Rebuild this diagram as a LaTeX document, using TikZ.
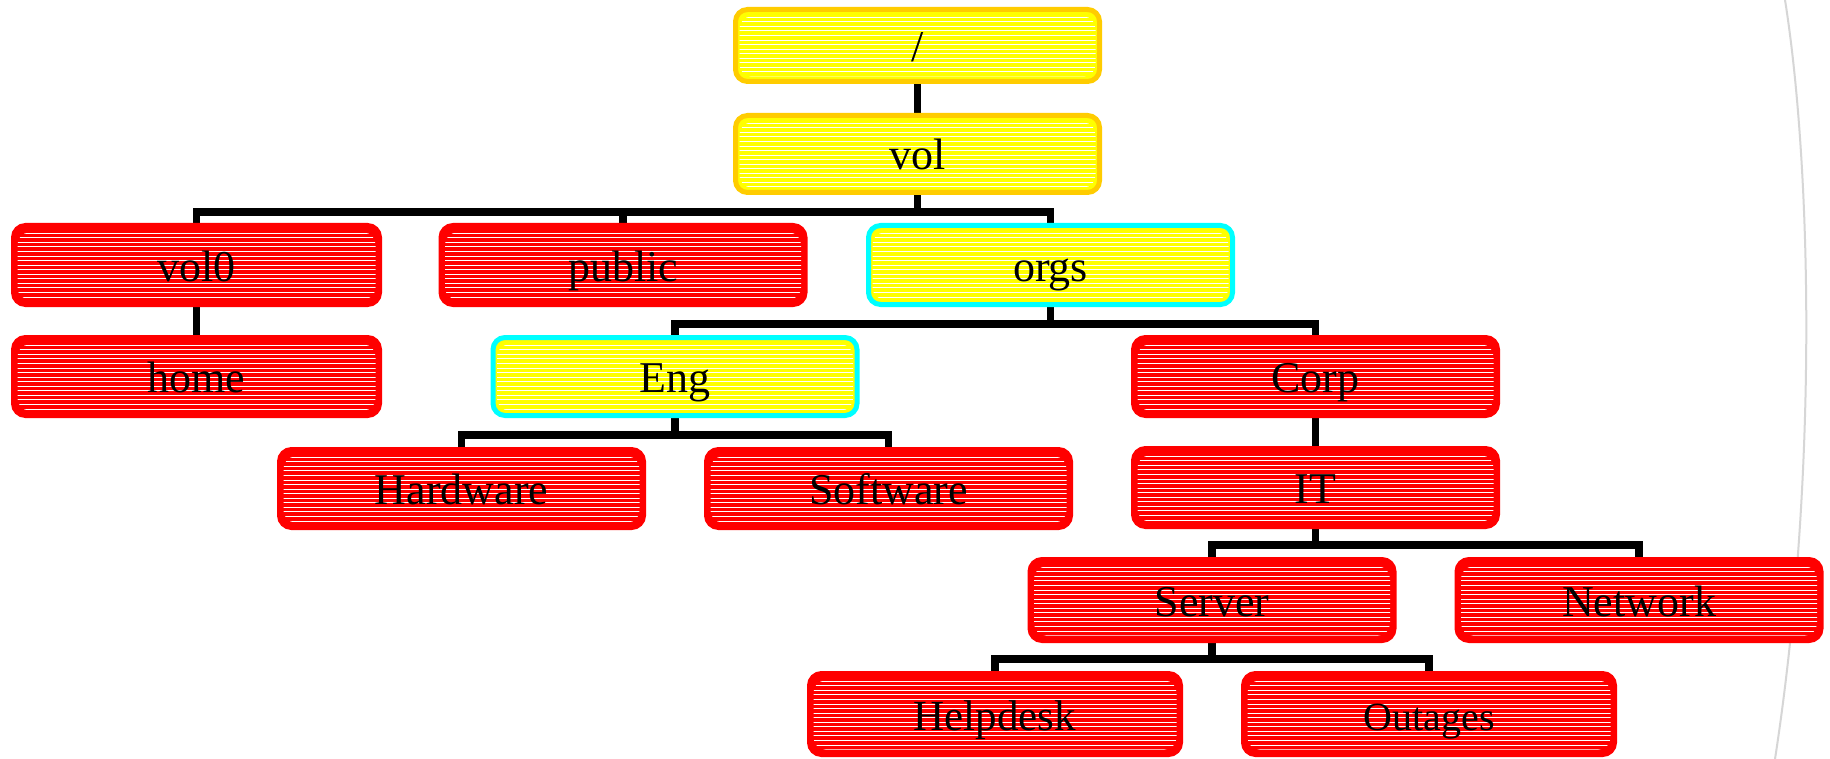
\documentclass[tikz,border=0pt]{standalone}
\usepackage{fontspec}
\setmainfont{Liberation Serif}
\pgfdeclarelayer{bg}
\pgfsetlayers{bg,main}

\definecolor{boxred}{HTML}{FF0000}
\definecolor{boxyellow}{HTML}{FFFF00}
\definecolor{boxgold}{HTML}{FFCC00}
\definecolor{boxcyan}{HTML}{00FFFF}
\definecolor{arcgray}{HTML}{D6D6D6}

\tikzset{
  box/.style={
    draw, line width=5pt, rounded corners=12pt,
    minimum width=364pt, minimum height=78pt, inner sep=0pt,
    text height=32pt, text depth=0pt,
    font=\fontsize{44}{50}\selectfont,
    % white hatch lines inside the box
    path picture={
      \clip ([shift={(4pt,5pt)}]path picture bounding box.south west) rectangle
            ([shift={(-4pt,-7pt)}]path picture bounding box.north east);
      \foreach \k in {0,...,19}
        \draw[white, line width=1pt]
          ([shift={(0pt,{-7.8pt-\k*4.55pt})}]path picture bounding box.north west) --
          ([shift={(0pt,{-7.8pt-\k*4.55pt})}]path picture bounding box.north east);
    }
  },
  redbox/.style={box, draw=boxred, fill=boxred},
  goldbox/.style={box, draw=boxgold, fill=boxyellow},
  cyanbox/.style={box, draw=boxcyan, fill=boxyellow},
  conn/.style={draw=black, line width=7.5pt, line join=miter}
}

\begin{document}
\begin{tikzpicture}[x=1pt,y=-1pt]
\useasboundingbox (0,0) rectangle (1830,759);

% directory boxes
\node[goldbox, minimum height=72pt] (root) at (917.5,45.5) {/};
\node[goldbox, minimum height=77pt] (vol) at (917.5,154) {vol};

\node[redbox, minimum height=79pt, minimum width=366pt] (vol0) at (196.5,265) {vol0};
\node[redbox, minimum height=79pt] (public) at (623,265) {public};
\node[cyanbox, minimum height=79pt] (orgs) at (1050.5,265) {orgs};

\node[redbox, minimum width=366pt] (home) at (196.5,376.5) {home};
\node[cyanbox] (eng) at (675,376.5) {Eng};
\node[redbox] (corp) at (1315.5,376.5) {Corp};

\node[redbox] (hardware) at (461.5,488.5) {Hardware};
\node[redbox] (software) at (888.5,488.5) {Software};
\node[redbox] (it) at (1315.5,487.5) {IT};

\node[redbox, minimum height=81pt] (server) at (1212,600) {Server};
\node[redbox, minimum height=81pt] (network) at (1639,600) {Network};

\node[redbox, minimum height=81pt, minimum width=371pt, font=\fontsize{43}{50}\selectfont] (helpdesk) at (995,714) {Helpdesk};
\node[redbox, minimum height=81pt, minimum width=371pt, font=\fontsize{40}{46}\selectfont] (outages) at (1429,714) {Outages};

\begin{pgfonlayer}{bg}
  \fill[white] (0,0) rectangle (1830,759);
  % faint page edge on the right
  \draw[arcgray, line width=2pt] (1785,0) .. controls (1812,170) and (1818,480) .. (1775,759);

  % tree connectors
  \draw[conn] (root) -- (vol);
  \draw[conn] (vol.south) -- ++(0,17) -| (vol0.north);
  \draw[conn] (vol.south) -- ++(0,17) -| (public.north);
  \draw[conn] (vol.south) -- ++(0,17) -| (orgs.north);

  \draw[conn] (vol0) -- (home);

  \draw[conn] (orgs.south) -- ++(0,17) -| (eng.north);
  \draw[conn] (orgs.south) -- ++(0,17) -| (corp.north);

  \draw[conn] (eng.south) -- ++(0,17) -| (hardware.north);
  \draw[conn] (eng.south) -- ++(0,17) -| (software.north);

  \draw[conn] (corp) -- (it);

  \draw[conn] (it.south) -- ++(0,16) -| (server.north);
  \draw[conn] (it.south) -- ++(0,16) -| (network.north);

  \draw[conn] (server.south) -- ++(0,16) -| (helpdesk.north);
  \draw[conn] (server.south) -- ++(0,16) -| (outages.north);
\end{pgfonlayer}
\end{tikzpicture}
\end{document}
